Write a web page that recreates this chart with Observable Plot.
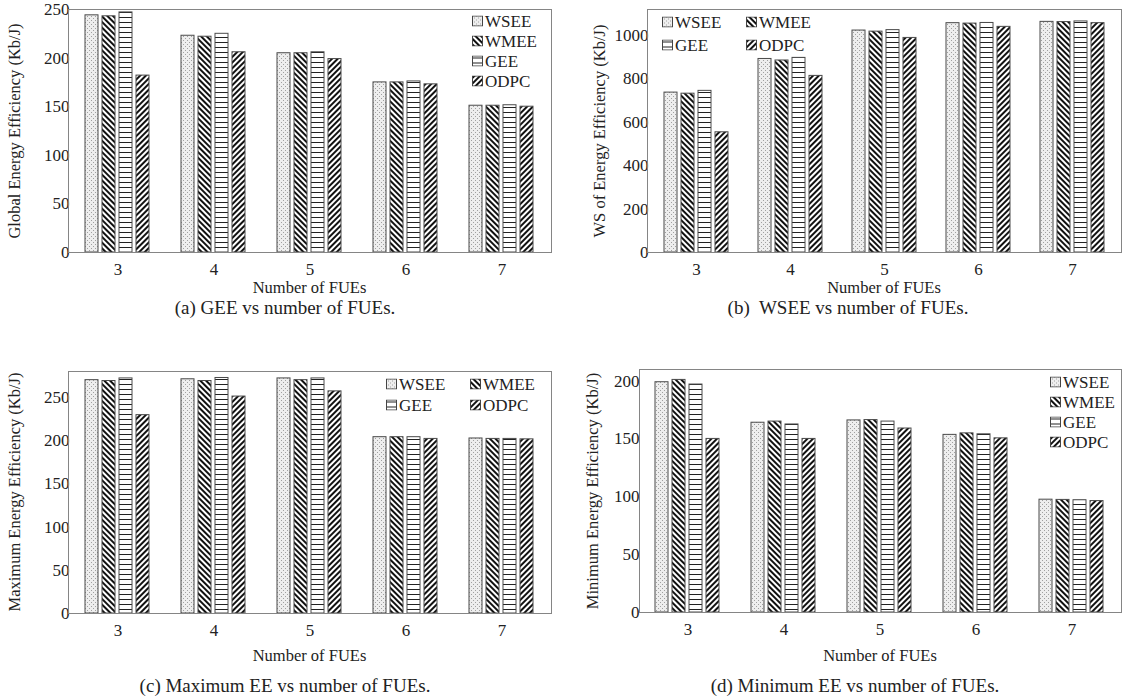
<!DOCTYPE html>
<html>
<head>
<meta charset="utf-8">
<script src="https://cdn.jsdelivr.net/npm/d3@7"></script>
<script src="https://cdn.jsdelivr.net/npm/@observablehq/plot@0.6"></script>
<style>
  html, body { margin: 0; padding: 0; background: #fff; }
  #root { position: relative; width: 1124px; height: 700px; overflow: hidden; font-family: "Liberation Serif", "Times New Roman", serif; color: #222; }
  #root svg text { font-family: "Liberation Serif", "Times New Roman", serif !important; font-size: 17px !important; fill: #222; }
  .panel { position: absolute; }
  .frame { position: absolute; border: 1px solid #858585; box-sizing: border-box; pointer-events: none; }
  .ytitle { position: absolute; font-size: 16.5px; white-space: nowrap; transform: translate(-50%, -50%) rotate(-90deg); }
  .xtitle { position: absolute; font-size: 16.5px; white-space: nowrap; transform: translate(-50%, -50%); }
  .caption { position: absolute; font-size: 19px; white-space: pre; transform: translate(-50%, -50%); }
  .litem { position: absolute; display: flex; align-items: center; white-space: nowrap; transform: translateY(-50%); line-height: 1; font-size: 17px; }
  .litem svg { margin-right: 2px; }
</style>
</head>
<body>
<svg width="0" height="0" style="position:absolute">
  <defs>
    <pattern id="pat-WSEE" width="4" height="4" patternUnits="userSpaceOnUse">
      <rect width="4" height="4" fill="#eeeeee"/>
      <rect x="0" y="0" width="1" height="1" fill="#a0a0a0"/>
      <rect x="2" y="2" width="1" height="1" fill="#a0a0a0"/>
    </pattern>
    <pattern id="pat-WMEE" width="4" height="4" patternUnits="userSpaceOnUse" patternTransform="rotate(-45)">
      <rect width="4" height="4" fill="#ffffff"/>
      <line x1="2" y1="0" x2="2" y2="4" stroke="#111" stroke-width="2"/>
    </pattern>
    <pattern id="pat-GEE" width="8" height="5" patternUnits="userSpaceOnUse">
      <rect width="8" height="5" fill="#ffffff"/>
      <line x1="0" y1="2.5" x2="8" y2="2.5" stroke="#222" stroke-width="1"/>
    </pattern>
    <pattern id="pat-ODPC" width="4" height="4" patternUnits="userSpaceOnUse" patternTransform="rotate(45)">
      <rect width="4" height="4" fill="#ffffff"/>
      <line x1="2" y1="0" x2="2" y2="4" stroke="#111" stroke-width="2"/>
    </pattern>
  </defs>
</svg>
<div id="root"></div>
<script>
// ---------- data ----------
const fues = ["3", "4", "5", "6", "7"];
const series = ["WSEE", "WMEE", "GEE", "ODPC"];

// (a) Global Energy Efficiency (Kb/J)
const geeWSEE = [244, 223, 205, 175, 151];
const geeWMEE = [243, 222, 205, 175, 151];
const geeGEE  = [247, 225, 206, 176, 151.5];
const geeODPC = [182, 206, 199, 173, 150];

// (b) WS of Energy Efficiency (Kb/J)
const wsWSEE = [737, 892, 1023, 1057, 1063];
const wsWMEE = [732, 885, 1018, 1055, 1062];
const wsGEE  = [745, 897, 1025, 1058, 1065];
const wsODPC = [554, 814, 989, 1040, 1057];

// (c) Maximum Energy Efficiency (Kb/J)
const maxWSEE = [270, 271, 272, 204, 202.5];
const maxWMEE = [269, 269, 270, 204, 202];
const maxGEE  = [272, 272.5, 272, 204, 202];
const maxODPC = [229.5, 251, 257, 202, 201.5];

// (d) Minimum Energy Efficiency (Kb/J)
const minWSEE = [199, 164, 166, 153.5, 97.5];
const minWMEE = [201, 165, 166.3, 154.8, 97.3];
const minGEE  = [197, 162.5, 165, 154, 97];
const minODPC = [150, 150, 159, 150.5, 96.3];

// axis ticks
const ticksA = [0, 50, 100, 150, 200, 250];
const ticksB = [0, 200, 400, 600, 800, 1000];
const ticksC = [0, 50, 100, 150, 200, 250];
const ticksD = [0, 50, 100, 150, 200];

const yTitles = ["Global Energy Efficiency (Kb/J)", "WS of Energy Efficiency (Kb/J)", "Maximum Energy Efficiency (Kb/J)", "Minimum Energy Efficiency (Kb/J)"];
const xTitle = "Number of FUEs";
const captions = ["(a) GEE vs number of FUEs.", "(b)  WSEE vs number of FUEs.", "(c) Maximum EE vs number of FUEs.", "(d) Minimum EE vs number of FUEs."];

// ---------- layout ----------
const root = document.getElementById("root");

function makeRows(cols) {
  return fues.flatMap((f, i) => series.map((s, j) => ({fue: f, series: s, value: cols[j][i]})));
}

function swatch(s) {
  const ns = "http://www.w3.org/2000/svg";
  const svg = document.createElementNS(ns, "svg");
  svg.setAttribute("width", 11); svg.setAttribute("height", 11);
  const r = document.createElementNS(ns, "rect");
  r.setAttribute("x", 0.5); r.setAttribute("y", 0.5); r.setAttribute("width", 10); r.setAttribute("height", 10);
  r.setAttribute("fill", `url(#pat-${s})`); r.setAttribute("stroke", "#444");
  svg.appendChild(r);
  return svg;
}

function panel(cfg) {
  const {left, top, width, height, mL, mR, mT, mB, cols, yMax, ticks, yTitle, yTitleX, caption, capX, capY, xTitleY, legend} = cfg;
  const wrap = document.createElement("div");
  wrap.className = "panel";
  wrap.style.left = left + "px"; wrap.style.top = top + "px";
  const chart = Plot.plot({
    width, height,
    marginLeft: mL, marginRight: mR, marginTop: mT, marginBottom: mB,
    style: {fontFamily: "Liberation Serif", fontSize: "17px", color: "#222", background: "transparent", overflow: "visible"},
    fx: {domain: fues, paddingInner: 0.28, paddingOuter: 0.14, label: null, tickSize: 0, tickPadding: 10, axis: "bottom"},
    x: {domain: series, axis: null, paddingInner: 0.22, paddingOuter: 0.05},
    y: {domain: [0, yMax], ticks: ticks, tickSize: 0, tickPadding: 14, label: null, tickFormat: d => String(d)},
    color: {domain: series, range: series.map(s => `url(#pat-${s})`)},
    marks: [
      Plot.barY(makeRows(cols), {fx: "fue", x: "series", y: "value", fill: "series", stroke: "#4a4a4a", strokeWidth: 1})
    ]
  });
  wrap.appendChild(chart);
  root.appendChild(wrap);

  const fr = document.createElement("div");
  fr.className = "frame";
  fr.style.left = (left + mL) + "px"; fr.style.top = (top + mT) + "px";
  fr.style.width = (width - mL - mR + 1) + "px"; fr.style.height = (height - mT - mB + 1) + "px";
  root.appendChild(fr);

  const yt = document.createElement("div");
  yt.className = "ytitle"; yt.textContent = yTitle;
  yt.style.left = (left + yTitleX) + "px"; yt.style.top = (top + mT + (height - mT - mB) / 2) + "px";
  root.appendChild(yt);

  const xt = document.createElement("div");
  xt.className = "xtitle"; xt.textContent = xTitle;
  xt.style.left = (left + mL + (width - mL - mR) / 2) + "px"; xt.style.top = xTitleY + "px";
  root.appendChild(xt);

  const cp = document.createElement("div");
  cp.className = "caption"; cp.textContent = caption;
  cp.style.left = capX + "px"; cp.style.top = capY + "px";
  root.appendChild(cp);

  legend.forEach((pos, j) => {
    const it = document.createElement("div");
    it.className = "litem";
    it.style.left = pos[0] + "px"; it.style.top = pos[1] + "px";
    it.appendChild(swatch(series[j]));
    const t = document.createElement("span"); t.textContent = series[j];
    it.appendChild(t);
    root.appendChild(it);
  });
}

panel({left: 0, top: 0, width: 562, height: 300, mL: 68, mR: 11, mT: 9, mB: 48,
  cols: [geeWSEE, geeWMEE, geeGEE, geeODPC], yMax: 250, ticks: ticksA, yTitle: yTitles[0], yTitleX: 15,
  caption: captions[0], capX: 285, capY: 308, xTitleY: 288,
  legend: [[472, 21], [472, 41], [472, 61], [472, 81]]});

panel({left: 562, top: 0, width: 562, height: 300, mL: 85, mR: 3, mT: 9, mB: 48,
  cols: [wsWSEE, wsWMEE, wsGEE, wsODPC], yMax: 1120, ticks: ticksB, yTitle: yTitles[1], yTitleX: 38,
  caption: captions[1], capX: 848, capY: 308, xTitleY: 288,
  legend: [[662, 22], [746, 22], [662, 45], [746, 45]]});

panel({left: 0, top: 362, width: 562, height: 300, mL: 68, mR: 11, mT: 9, mB: 49,
  cols: [maxWSEE, maxWMEE, maxGEE, maxODPC], yMax: 280, ticks: ticksC, yTitle: yTitles[2], yTitleX: 15,
  caption: captions[2], capX: 285, capY: 686, xTitleY: 656,
  legend: [[386, 384], [470, 384], [386, 405], [470, 405]]});

panel({left: 562, top: 362, width: 562, height: 300, mL: 77, mR: 3, mT: 7, mB: 50,
  cols: [minWSEE, minWMEE, minGEE, minODPC], yMax: 210, ticks: ticksD, yTitle: yTitles[3], yTitleX: 31,
  caption: captions[3], capX: 855, capY: 686, xTitleY: 656,
  legend: [[1050, 382], [1050, 402], [1050, 422], [1050, 442]]});
</script>
</body>
</html>
